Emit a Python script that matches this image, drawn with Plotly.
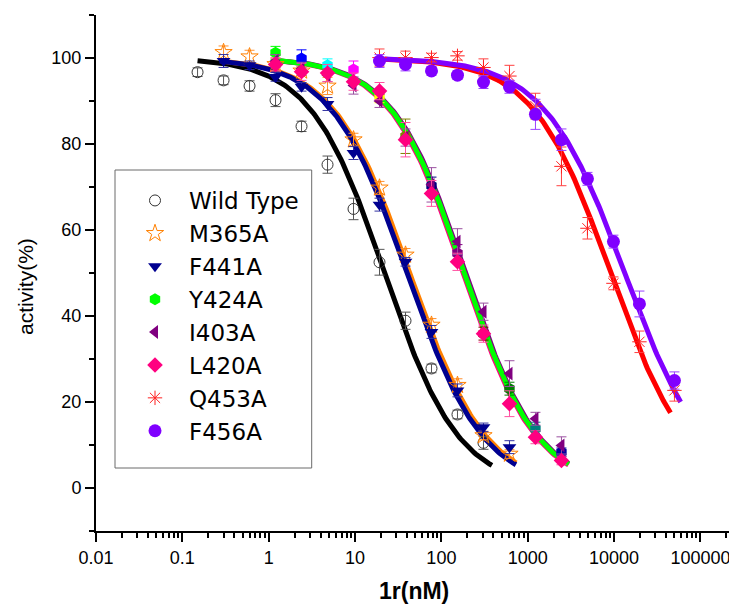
import numpy as np
import plotly.graph_objects as go

# ---------------- data ----------------
series_names = ["Wild Type", "M365A", "F441A", "Y424A", "I403A", "L420A", "Q453A", "F456A"]

wt_x = [0.15, 0.3, 0.6, 1.2, 2.4, 4.8, 9.6, 19.2, 38.4, 76.8, 153.6, 307.2]
wt_y = [96.7, 94.8, 93.5, 90.2, 84.1, 75.2, 64.9, 52.5, 38.9, 27.8, 17.1, 10.5]
wt_err = [1.0, 1.0, 1.2, 1.5, 1.2, 2.0, 2.5, 3.0, 2.0, 1.0, 1.0, 1.5]

m365a_x = [0.3, 0.6, 1.2, 2.4, 4.8, 9.6, 19.2, 38.4, 76.8, 153.6, 307.2, 614.4]
m365a_y = [101.3, 100.3, 98.5, 97.0, 93.5, 81.0, 69.8, 54.2, 37.9, 23.9, 12.2, 7.9]
m365a_err = [1.5, 1.5, 1.5, 1.0, 2.0, 1.5, 1.5, 1.5, 1.5, 1.5, 1.0, 1.0]

f441a_x = [0.3, 0.6, 1.2, 2.4, 4.8, 9.6, 19.2, 38.4, 76.8, 153.6, 307.2, 614.4]
f441a_y = [99.3, 98.3, 95.6, 93.3, 89.3, 77.9, 65.9, 52.6, 36.3, 22.7, 14.1, 9.5]
f441a_err = [1.5, 1.0, 1.0, 1.0, 1.5, 1.5, 1.5, 1.0, 1.5, 1.5, 1.0, 1.5]

y424a_x = [1.2, 2.4, 4.8, 9.6, 19.2, 38.4, 76.8, 153.6, 307.2, 614.4, 1228.8, 2457.6]
y424a_y = [101.2, 99.9, 98.3, 97.3, 91.1, 81.8, 70.3, 54.6, 35.9, 23.1, 13.8, 8.3]
y424a_err = [1.5, 2.0, 1.5, 2.0, 1.5, 4.0, 2.0, 2.0, 1.5, 1.5, 1.5, 1.0]

i403a_x = [1.2, 2.4, 4.8, 9.6, 19.2, 38.4, 76.8, 153.6, 307.2, 614.4, 1228.8, 2457.6]
i403a_y = [99.3, 97.5, 96.0, 93.6, 90.0, 81.5, 70.5, 57.3, 41.0, 26.6, 16.1, 9.9]
i403a_err = [1.5, 1.5, 1.5, 2.0, 1.5, 2.0, 4.0, 3.0, 2.0, 3.0, 1.5, 2.0]

l420a_x = [1.2, 2.4, 4.8, 9.6, 19.2, 38.4, 76.8, 153.6, 307.2, 614.4, 1228.8, 2457.6]
l420a_y = [98.5, 96.8, 96.5, 94.5, 92.3, 81.0, 68.5, 52.6, 35.9, 19.6, 11.8, 6.4]
l420a_err = [1.5, 2.0, 2.0, 2.0, 2.0, 4.0, 3.0, 2.0, 2.0, 3.0, 1.5, 1.0]

q453a_x = [19.2, 38.4, 76.8, 153.6, 307.2, 614.4, 1228.8, 2457.6, 4915.2, 9830.4, 19660.8, 50000]
q453a_y = [100.1, 100.1, 100.1, 100.5, 97.8, 95.8, 88.8, 74.8, 60.4, 47.6, 34.0, 22.7]
q453a_err = [2.0, 1.5, 1.0, 1.0, 2.0, 2.5, 3.0, 4.5, 2.5, 1.5, 2.5, 2.5]

f456a_x = [19.2, 38.4, 76.8, 153.6, 307.2, 614.4, 1228.8, 2457.6, 4915.2, 9830.4, 19660.8, 50000]
f456a_y = [99.3, 98.5, 97.0, 96.0, 94.4, 93.3, 86.9, 81.0, 71.9, 57.3, 42.8, 25.0]
f456a_err = [1.5, 1.5, 1.0, 1.0, 1.5, 1.5, 3.5, 2.5, 1.5, 1.5, 3.0, 2.0]

# fitted dose-response curve parameters (IC50 in nM, Hill slope, fitted x span)
fit_ic50 = [22.0, 43.0, 40.0, 184.0, 190.0, 178.0, 9100.0, 13300.0]
fit_hill = [1.01, 0.98, 0.985, 1.02, 1.02, 1.02, 0.97, 0.93]
fit_xmin = [0.15, 0.28, 0.27, 1.35, 1.2, 1.2, 22.0, 22.0]
fit_xmax = [385.0, 735.0, 730.0, 2970.0, 2970.0, 2970.0, 45000.0, 59000.0]

x_tick_labels = ["0.01", "0.1", "1", "10", "100", "1000", "10000", "100000"]
x_tick_values = [0.01, 0.1, 1, 10, 100, 1000, 10000, 100000]

# ---------------- styles ----------------
marker_symbols = ["circle-open", "star-open", "triangle-down", "hexagon", "triangle-left",
                  "diamond", "asterisk-open", "circle"]
marker_colors = ["#333333", "#FF8000", "#000090", "#00FF00", "#800080", "#FF0080", "#FF2020", "#8000FF"]
err_colors = ["#555555", "#FF9030", "#3030A0", "#40C040", "#9A50A0", "#FF50A0", "#FF4040", "#9A40FF"]
line_colors = ["#000000", "#FF8000", "#000090", "#00FF00", "#800080", "#FF0080", "#FF0000", "#8000FF"]
marker_sizes = [11, 13, 12, 12, 12, 12, 12, 13]
y424a_point_colors = ["#00FF00", "#0000FF", "#00FFFF", "#FF00FF", "#FFFF00", "#808000",
                      "#000080", "#800080", "#800000", "#008000", "#008080", "#0000A0"]

xs = [wt_x, m365a_x, f441a_x, y424a_x, i403a_x, l420a_x, q453a_x, f456a_x]
ys = [wt_y, m365a_y, f441a_y, y424a_y, i403a_y, l420a_y, q453a_y, f456a_y]
errs = [wt_err, m365a_err, f441a_err, y424a_err, i403a_err, l420a_err, q453a_err, f456a_err]

fig = go.Figure()

# fitted curves (drawn beneath the points)
curve_order = [0, 1, 2, 5, 4, 3, 6, 7]
for i in curve_order:
    cx = np.logspace(np.log10(fit_xmin[i]), np.log10(fit_xmax[i]), 200)
    cy = 100.0 / (1.0 + (cx / fit_ic50[i]) ** fit_hill[i])
    fig.add_trace(go.Scatter(x=cx, y=cy, mode="lines", showlegend=False, hoverinfo="skip",
                             line=dict(color=line_colors[i], width=5)))

# Y424A error bars coloured per point
for j in range(len(y424a_x)):
    fig.add_trace(go.Scatter(x=[y424a_x[j]], y=[y424a_y[j]], mode="markers", showlegend=False,
                             marker=dict(opacity=0, size=2),
                             error_y=dict(type="data", array=[y424a_err[j]], color=y424a_point_colors[j],
                                          thickness=1, width=5)))

for i, name in enumerate(series_names):
    sym = marker_symbols[i]
    mk = dict(symbol=sym, size=marker_sizes[i])
    if sym.endswith("-open"):
        mk.update(color=marker_colors[i], line=dict(color=marker_colors[i], width=1))
    else:
        col = y424a_point_colors if name == "Y424A" else marker_colors[i]
        mk.update(color=col, line=dict(width=0))
    tr = dict(x=xs[i], y=ys[i], mode="markers", name=name, marker=mk)
    if name != "Y424A":
        tr["error_y"] = dict(type="data", array=errs[i], color=err_colors[i], thickness=1, width=5)
    fig.add_trace(go.Scatter(**tr))

# ---------------- layout ----------------
OFF = 8  # page body margin of the html page
W, H = 737 - OFF, 606 - OFF
L, R, T, B = 96 - OFF, 6, 15 - OFF, 75
pw, ph = W - L - R, H - T - B

def px_x(p):
    return (p - OFF - L) / pw

def px_y(p):
    return (H - B - (p - OFF)) / ph

minor_x = [m * 10.0 ** e for e in range(-2, 6) for m in range(2, 10)]

fig.update_layout(
    width=W, height=H,
    margin=dict(l=L, r=R, t=T, b=B),
    plot_bgcolor="white", paper_bgcolor="white",
    showlegend=True,
    legend=dict(x=px_x(121), y=px_y(179), xanchor="left", yanchor="top",
                bgcolor="rgba(0,0,0,0)", borderwidth=0, itemwidth=58,
                font=dict(family="DejaVu Sans", size=23, color="black"),
                tracegroupgap=0),
    shapes=[dict(type="rect", xref="paper", yref="paper",
                 x0=px_x(115), x1=px_x(311.7), y0=px_y(468), y1=px_y(170),
                 line=dict(color="#6a6a6a", width=1), fillcolor="rgba(0,0,0,0)")],
    annotations=[
        dict(text="activity(%)", xref="paper", yref="paper", x=px_x(25), y=px_y(287),
             showarrow=False, textangle=-90, xanchor="center", yanchor="middle",
             font=dict(family="Liberation Sans", size=21, color="black")),
        dict(text="<b>1r(nM)</b>", xref="paper", yref="paper", x=px_x(414), y=px_y(591),
             showarrow=False, xanchor="center", yanchor="middle",
             font=dict(family="Liberation Sans", size=23, color="black")),
    ],
)

fig.update_xaxes(type="log", range=[-2, 5.354], showline=True, linecolor="black", linewidth=2,
                 tickmode="array", tickvals=x_tick_values, ticktext=x_tick_labels,
                 ticks="outside", ticklen=9, tickwidth=2, tickcolor="black",
                 minor=dict(tickmode="array", tickvals=minor_x, ticks="outside", ticklen=5,
                            tickwidth=1.5, tickcolor="black", showgrid=False),
                 showgrid=False, zeroline=False,
                 tickfont=dict(family="Liberation Sans", size=18, color="black"))

fig.update_yaxes(range=[-10, 110], showline=True, linecolor="black", linewidth=2,
                 tickmode="linear", tick0=0, dtick=20,
                 ticks="outside", ticklen=9, tickwidth=2, tickcolor="black",
                 minor=dict(tickmode="linear", tick0=10, dtick=20, ticks="outside", ticklen=5,
                            tickwidth=1.5, tickcolor="black", showgrid=False),
                 showgrid=False, zeroline=False,
                 tickfont=dict(family="Liberation Sans", size=18, color="black"))

fig.write_html("out.html")
